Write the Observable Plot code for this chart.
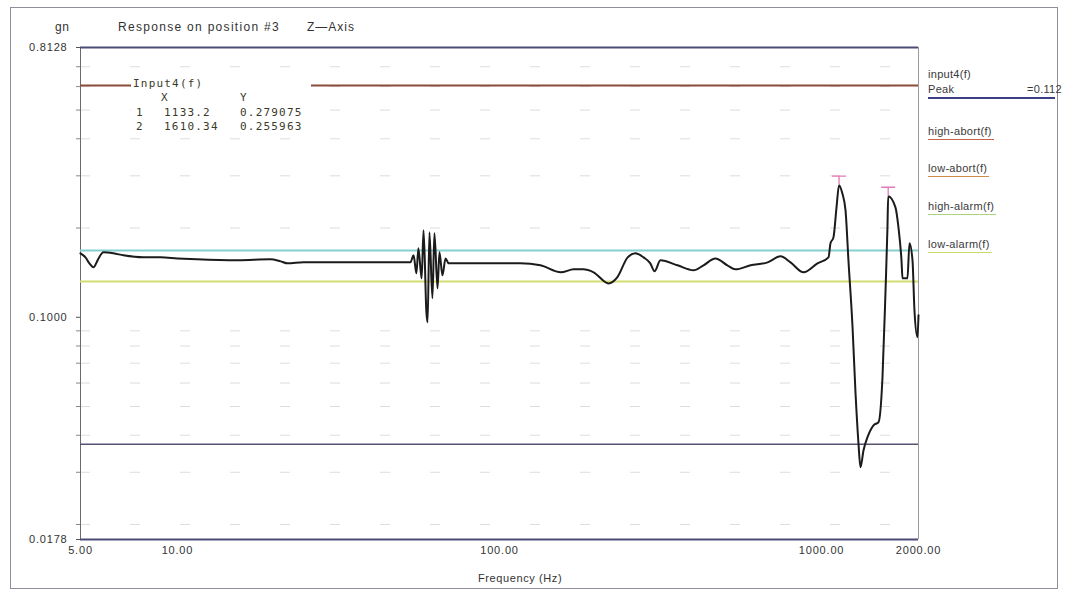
<!DOCTYPE html>
<html>
<head>
<meta charset="utf-8">
<script src="https://cdn.jsdelivr.net/npm/d3@7"></script>
<script src="https://cdn.jsdelivr.net/npm/@observablehq/plot@0.6"></script>
<style>
  body { margin: 0; background: #fff; }
  #wrap { position: relative; width: 1065px; height: 592px; overflow: hidden; background: #fff;
          font-family: "Liberation Sans", Arial, sans-serif; color: #333; }
  #frame { position: absolute; left: 10px; top: 7px; width: 1048px; height: 582px;
           border: 1.5px solid #8d8d9c; box-sizing: border-box; pointer-events: none; }
  #chart { position: absolute; left: 0; top: 0; }
  .t { position: absolute; white-space: nowrap; font-size: 12px; line-height: 12px; letter-spacing: 0.6px; }
  .leg { position: absolute; left: 928px; white-space: nowrap; font-size: 11px; line-height: 11px;
         letter-spacing: 0.3px; color: #3a3a3a; padding-bottom: 2px; }
  #ann { position: absolute; left: 131px; top: 77px; width: 180px; height: 56px; background: #fff; }
  .m { position: absolute; white-space: nowrap; font-family: "DejaVu Sans Mono", monospace;
       font-size: 11px; line-height: 11px; color: #3b3b2c; letter-spacing: 1.2px; }
</style>
</head>
<body>
<div id="wrap">
  <div id="chart"></div>
  <div id="ann"></div>
  <div id="frame"></div>
</div>
<script>
// ---- data ----
// response curve: [frequency (Hz), response (gn)]
const curve = [
  [5, 0.1643], [5.18, 0.1593], [5.33, 0.1520], [5.49, 0.1474], [5.61, 0.1532], [5.69, 0.1580],
  [5.89, 0.1656], [6.33, 0.1643], [6.80, 0.1618], [7.84, 0.1593], [8.86, 0.1593], [10.0, 0.1580],
  [11.5, 0.1568], [15.4, 0.1556], [19.4, 0.1568], [20.9, 0.1544], [22.0, 0.1520], [24.6, 0.1532],
  [31.4, 0.1532], [39.8, 0.1532], [50.3, 0.1532], [52.9, 0.1532],
  [54.1, 0.1618], [55.2, 0.1407], [56.0, 0.1708], [57.3, 0.1353], [58.1, 0.1964], [59.3, 0.1039],
  [59.8, 0.0962], [60.6, 0.1934], [61.9, 0.1159], [62.8, 0.1919], [64.2, 0.1252], [65.1, 0.1656],
  [66.5, 0.1385], [68.0, 0.1580], [69.5, 0.1520],
  [70.5, 0.1520], [87.3, 0.1520], [116, 0.1520], [134, 0.1497], [155, 0.1418], [170, 0.1451],
  [182, 0.1451], [196, 0.1418], [218, 0.1301], [232, 0.1364], [250, 0.1593], [264, 0.1643],
  [280, 0.1593], [294, 0.1520], [303, 0.1429], [316, 0.1556], [357, 0.1497], [400, 0.1440],
  [430, 0.1497], [468, 0.1580], [510, 0.1497], [540, 0.1451], [602, 0.1497], [680, 0.1532],
  [746, 0.1605], [801, 0.1532], [879, 0.1418], [971, 0.1520], [1051, 0.1593], [1066, 0.1776],
  [1089, 0.1860], [1113, 0.2350], [1133.2, 0.279075], [1160, 0.2620], [1187, 0.2294],
  [1212, 0.1556], [1248, 0.0925], [1275, 0.0554], [1302, 0.0376], [1321, 0.0312], [1350, 0.0356],
  [1389, 0.0394], [1450, 0.0432], [1503, 0.0443], [1546, 0.0628], [1579, 0.1204], [1602, 0.2010],
  [1610.34, 0.255963], [1696, 0.2348], [1733, 0.2010], [1771, 0.1556], [1784, 0.1353],
  [1848, 0.1353], [1875, 0.1776], [1916, 0.1556], [1943, 0.1056], [1985, 0.0856], [2000, 0.1016]
];

// limit profile lines (gn)
const limitNames  = ["high-abort(f)", "high-alarm(f)", "low-alarm(f)", "low-abort(f)"];
const limitValues = [0.605, 0.168, 0.132, 0.0373];

// peak markers (from the on-chart table)
const peakIndex = ["1", "2"];
const peakFreq  = [1133.2, 1610.34];
const peakResp  = [0.279075, 0.255963];

// axes
const xDomain = [5, 2000];
const yDomain = [0.0178, 0.8128];
const xTicks  = [5, 10, 100, 1000, 2000];
const yTicks  = [0.0178, 0.1, 0.8128];
const yMinor  = [0.7, 0.6, 0.5, 0.4, 0.3, 0.2, 0.09, 0.08, 0.07, 0.06, 0.05, 0.04, 0.03, 0.02];

// legend
const legendItems = ["input4(f)", "high-abort(f)", "low-abort(f)", "high-alarm(f)", "low-alarm(f)"];
const peakLabel = "Peak";
const peakValueText = "=0.112";

// ---- styles ----
const limitStyle = {
  "high-abort(f)": {stroke: "#8c4a3a", width: 2},
  "high-alarm(f)": {stroke: "#86cfd0", width: 2},
  "low-alarm(f)":  {stroke: "#d3dc6e", width: 2},
  "low-abort(f)":  {stroke: "#5a5070", width: 1.6}
};
const legendUnderline = {
  "high-abort(f)": "#c8634c",
  "low-abort(f)":  "#cf8a4a",
  "high-alarm(f)": "#a9d47a",
  "low-alarm(f)":  "#c9da6a"
};

const tSymbol = {
  draw(ctx) {
    ctx.moveTo(-7, -9); ctx.lineTo(7, -9);
    ctx.moveTo(0, -9); ctx.lineTo(0, -1);
  }
};

const marks = [
  Plot.ruleY(yMinor, {stroke: "#cfcfcf", strokeDasharray: "10,40", strokeOpacity: 0.7}),
  Plot.ruleX([xDomain[1]], {stroke: "#9a9a9a", strokeWidth: 1}),
  Plot.ruleX([xDomain[0]], {stroke: "#6a6a6a", strokeWidth: 1}),
  Plot.ruleY([yDomain[1]], {stroke: "#4b4b78", strokeWidth: 2}),
  Plot.ruleY([yDomain[0]], {stroke: "#4b4b78", strokeWidth: 2})
];
limitNames.forEach((name, i) => {
  marks.push(Plot.ruleY([limitValues[i]], {stroke: limitStyle[name].stroke, strokeWidth: limitStyle[name].width}));
});
marks.push(
  Plot.line(curve, {x: d => d[0], y: d => d[1], stroke: "#1b1b1b", strokeWidth: 2, curve: "monotone-x"}),
  Plot.dot(peakIndex, {x: (d, i) => peakFreq[i], y: (d, i) => peakResp[i], symbol: tSymbol, r: 5,
                       fill: "none", stroke: "#e27ab8", strokeWidth: 1.3}),
  Plot.axisY(yTicks, {tickFormat: d => d.toFixed(4), tickSize: 4, tickPadding: 9, label: null,
                      fontSize: 11, stroke: "#555"}),
  Plot.axisY(yMinor, {tickFormat: () => "", tickSize: 4, label: null, stroke: "#888"}),
  Plot.text(xTicks, {x: d => d, frameAnchor: "bottom", dy: 14, text: d => d.toFixed(2), fontSize: 11, fill: "#333"})
);

const chart = Plot.plot({
  width: 1065, height: 592,
  marginLeft: 80, marginRight: 147, marginTop: 47, marginBottom: 53,
  x: {type: "log", domain: xDomain, axis: null},
  y: {type: "log", domain: yDomain},
  style: {fontFamily: "Liberation Sans, Arial, sans-serif", color: "#333", background: "transparent", letterSpacing: "0.8px"},
  marks
});
document.getElementById("chart").appendChild(chart);

// ---- HTML text: title, unit, legend, annotation table ----
const wrap = document.getElementById("wrap");
function addText(cls, text, left, top, extra) {
  const el = document.createElement("div");
  el.className = cls;
  el.textContent = text;
  el.style.left = left + "px";
  el.style.top = top + "px";
  if (extra) Object.assign(el.style, extra);
  wrap.appendChild(el);
  return el;
}
addText("t", "gn", 55, 21);
addText("t", "Response on position #3", 118, 21, {letterSpacing: "1.3px"});
addText("t", "Z\u2014Axis", 307, 21, {letterSpacing: "1px"});
addText("t", "Frequency (Hz)", 478, 572, {fontSize: "11px"});

// legend
addText("leg", legendItems[0], 928, 69, {paddingBottom: "0"});
addText("leg", peakLabel, 928, 84, {width: "127px", borderBottom: "2px solid #3b3f86"});
addText("leg", peakValueText, 1027, 84);
const legTops = [126, 163, 201, 239];
legendItems.slice(1).forEach((name, i) => {
  addText("leg", name, 928, legTops[i], {borderBottom: "1.5px solid " + legendUnderline[name], paddingRight: "2px"});
});

// annotation table
const ann = document.getElementById("ann");
function addM(text, left, top) {
  const el = document.createElement("div");
  el.className = "m"; el.textContent = text;
  el.style.left = (left - 131) + "px"; el.style.top = (top - 77) + "px";
  ann.appendChild(el);
}
addM("Input4(f)", 133, 78);
addM("X", 161, 92);
addM("Y", 240, 92);
peakIndex.forEach((d, i) => {
  const top = 107 + i * 14;
  addM(d, 136, top);
  addM(String(peakFreq[i]), 164, top);
  addM(String(peakResp[i]), 240, top);
});
</script>
</body>
</html>
